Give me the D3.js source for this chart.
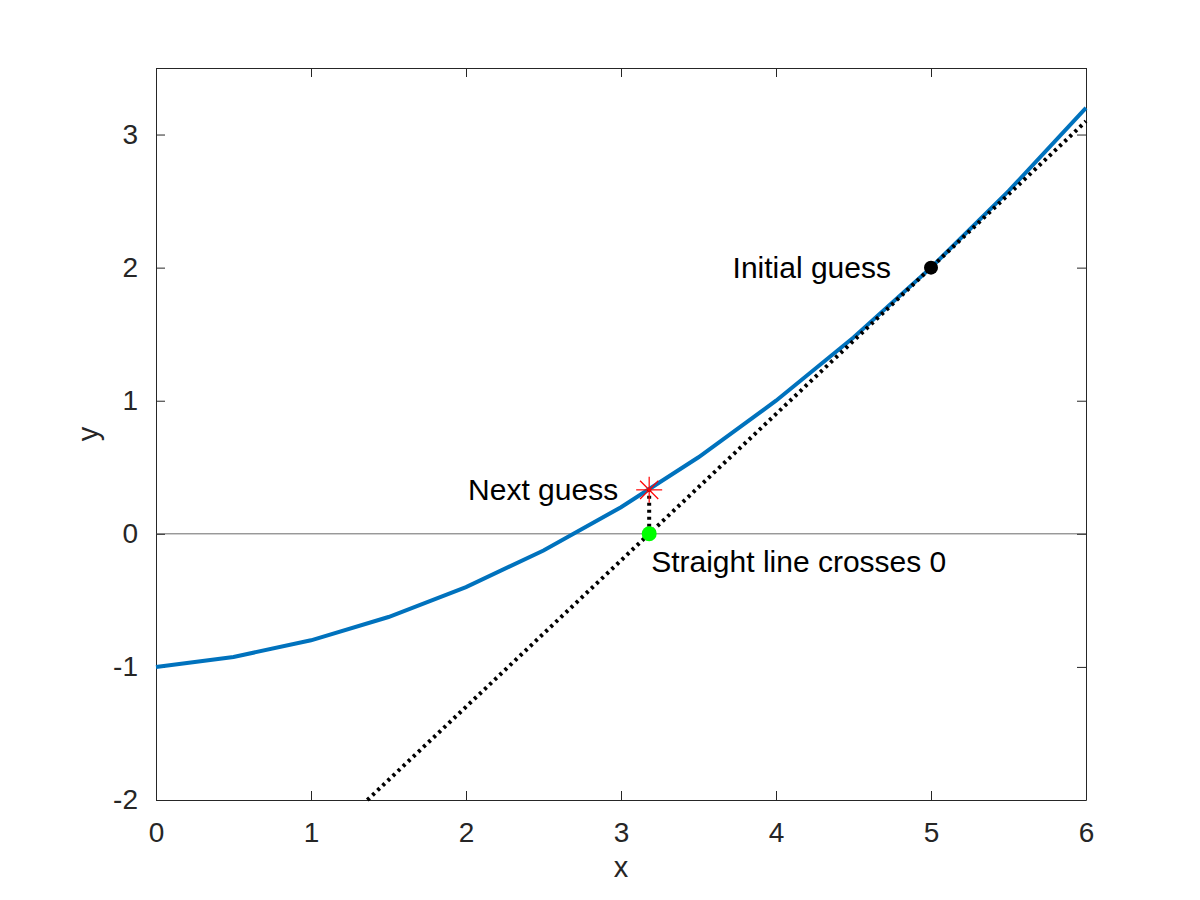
<!DOCTYPE html>
<html><head><meta charset="utf-8">
<script src="https://cdn.jsdelivr.net/npm/d3@7"></script>
<style>body{margin:0;background:#fff}text{font-family:"Liberation Sans",Arial,sans-serif}</style>
</head><body><svg width="1200" height="900"></svg>
<script>
const curveX = [0, 0.5, 1, 1.5, 2, 2.5, 3, 3.5, 4, 4.5, 5, 5.5, 6];
const curveY = [-1, -0.925, -0.8, -0.625, -0.4, -0.125, 0.2, 0.575, 1.0, 1.475, 2.0, 2.575, 3.2];
const tangentX = [1.3636, 6];
const tangentY = [-2, 3.1];
const initialGuess = [5, 2];
const crossing = [3.1818, 0];
const nextGuess = [3.1818, 0.3303];
const xTicks = [0, 1, 2, 3, 4, 5, 6];
const yTicks = [-2, -1, 0, 1, 2, 3];

const svg = d3.select("svg");
const pLeft = 156, pRight = 1086, pTop = 68, pBottom = 800;
const x = d3.scaleLinear().domain([0, 6]).range([pLeft, pRight]);
const y = d3.scaleLinear().domain([-2, 3.5]).range([pBottom, pTop]);
const fmt = d => String(d);

// axes box with inward ticks on all sides
svg.append("g").attr("transform", `translate(0,${pBottom})`)
    .call(d3.axisBottom(x).tickValues(xTicks).tickFormat(fmt).tickSizeInner(-9).tickSizeOuter(0).tickPadding(22));
svg.append("g").attr("transform", `translate(0,${pTop})`)
    .call(d3.axisTop(x).tickValues(xTicks).tickSizeInner(-9).tickSizeOuter(0).tickFormat(""));
svg.append("g").attr("transform", `translate(${pLeft},0)`)
    .call(d3.axisLeft(y).tickValues(yTicks).tickFormat(fmt).tickSizeInner(-9).tickSizeOuter(0).tickPadding(18));
svg.append("g").attr("transform", `translate(${pRight},0)`)
    .call(d3.axisRight(y).tickValues(yTicks).tickSizeInner(-9).tickSizeOuter(0).tickFormat(""));
svg.selectAll(".domain").attr("stroke", "#262626");
svg.selectAll(".tick line").attr("stroke", "#262626");
svg.selectAll(".tick text").attr("font-size", 28).attr("fill", "#262626")
    .attr("font-family", "Liberation Sans, Arial, sans-serif");

// zero line
svg.append("line").attr("x1", x(0)).attr("x2", x(6)).attr("y1", y(0)).attr("y2", y(0))
    .attr("stroke", "#444").attr("stroke-width", 0.8);

const line = d3.line().x(d => x(d[0])).y(d => y(d[1]));
svg.append("path").datum(curveX.map((v, i) => [v, curveY[i]]))
    .attr("d", line).attr("fill", "none").attr("stroke", "#0072BD").attr("stroke-width", 4);
svg.append("path").datum(tangentX.map((v, i) => [v, tangentY[i]]))
    .attr("d", line).attr("fill", "none").attr("stroke", "#000").attr("stroke-width", 4)
    .attr("stroke-dasharray", "3,4");
svg.append("path").datum([crossing, nextGuess])
    .attr("d", line).attr("fill", "none").attr("stroke", "#000").attr("stroke-width", 4)
    .attr("stroke-dasharray", "3,4");

svg.append("circle").attr("cx", x(initialGuess[0])).attr("cy", y(initialGuess[1])).attr("r", 7).attr("fill", "#000");
svg.append("circle").attr("cx", x(crossing[0])).attr("cy", y(crossing[1])).attr("r", 7.5).attr("fill", "#00ff00");

// star marker
const sx = x(nextGuess[0]), sy = y(nextGuess[1]), s = 13;
const star = svg.append("g").attr("stroke", "#ff0000").attr("stroke-width", 1.2);
star.append("line").attr("x1", sx - s).attr("x2", sx + s).attr("y1", sy).attr("y2", sy);
star.append("line").attr("x1", sx).attr("x2", sx).attr("y1", sy - s).attr("y2", sy + s);
star.append("line").attr("x1", sx - s * 0.7).attr("x2", sx + s * 0.7).attr("y1", sy - s * 0.7).attr("y2", sy + s * 0.7);
star.append("line").attr("x1", sx - s * 0.7).attr("x2", sx + s * 0.7).attr("y1", sy + s * 0.7).attr("y2", sy - s * 0.7);

const lbl = (t, px, py, anchor) => svg.append("text").attr("x", px).attr("y", py)
    .attr("text-anchor", anchor).attr("font-size", 30).attr("fill", "#000").text(t);
lbl("Initial guess", x(initialGuess[0]) - 40, y(initialGuess[1]) + 10, "end");
lbl("Next guess", sx - 31, sy + 10, "end");
lbl("Straight line crosses 0", x(crossing[0]) + 2, y(0) + 38, "start");

svg.append("text").attr("x", (pLeft + pRight) / 2).attr("y", 877).attr("text-anchor", "middle")
    .attr("font-size", 29).attr("fill", "#262626").text("x");
svg.append("text").attr("transform", `translate(98,${(pTop + pBottom) / 2}) rotate(-90)`)
    .attr("text-anchor", "middle").attr("font-size", 29).attr("fill", "#262626").text("y");
</script></body></html>
